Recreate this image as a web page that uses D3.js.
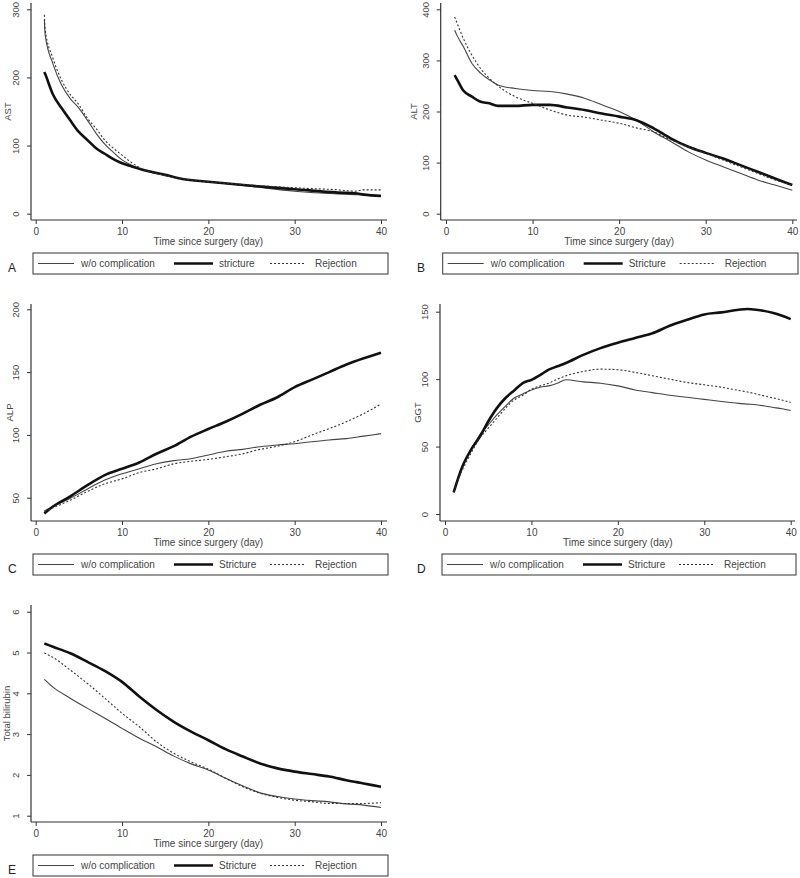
<!DOCTYPE html>
<html>
<head>
<meta charset="utf-8">
<script src="https://cdn.jsdelivr.net/npm/d3@7"></script>
<style>
  html, body { margin: 0; padding: 0; background: #fff; }
  svg text { font-family: "Liberation Sans", Arial, sans-serif; fill: #333; }
</style>
</head>
<body>
<svg id="chart" width="800" height="878"></svg>
<script>
// ---------------- DATA ----------------
const seriesNames = ["w/o complication", "Stricture", "Rejection"];
const seriesNamesA = ["w/o complication", "stricture", "Rejection"];
const xTicks = [0, 10, 20, 30, 40];
const xTitle = "Time since surgery (day)";

// A: AST
const astDays      = [1, 1.1, 2, 3, 4, 5, 6, 7, 8, 9, 10, 11, 12, 15, 17, 20, 25, 30, 35, 37, 38, 40];
const astNoComp    = [285, 262, 220, 189, 169, 155, 137, 118, 102, 90, 79, 72, 66, 56, 51, 47, 40, 33, 29, 28, 27.5, 27];
const astStricture = [208, 205, 175, 155, 137, 120, 108, 96, 88, 80, 74, 70, 66, 57, 51, 47, 41, 36, 31, 30, 28, 26];
const astRejection = [292, 270, 228, 196, 175, 160, 140, 125, 108, 96, 86, 76, 68, 56, 51, 47, 42, 38, 35, 33, 35, 35];
const astTicks = [0, 100, 200, 300];

// B: ALT
const altDays      = [1, 1.3, 2, 3, 4, 5, 6, 8, 10, 12, 14, 16, 18, 20, 22, 24, 26, 28, 30, 32, 34, 36, 38, 40];
const altNoComp    = [359, 348, 327, 294, 275, 262, 252, 245, 241, 239, 234, 226, 213, 200, 183, 160, 141, 121, 105, 92, 79, 66, 56, 46];
const altStricture = [271, 262, 241, 229, 219, 216, 211, 211, 213, 213, 208, 203, 196, 190, 183, 167, 147, 131, 119, 108, 95, 82, 69, 56];
const altRejection = [385, 372, 343, 310, 284, 265, 250, 229, 216, 203, 193, 189, 183, 177, 168, 160, 144, 131, 118, 105, 92, 79, 66, 56];
const altTicks = [0, 100, 200, 300, 400];

// C: ALP
const alpDays      = [1, 2, 4, 6, 8, 10, 12, 14, 16, 18, 20, 22, 24, 26, 28, 30, 32, 34, 36, 38, 40];
const alpNoComp    = [39.6, 43, 49.5, 57, 64, 69, 73, 77, 79.5, 81, 84, 87, 88.5, 90.6, 92, 93, 94.6, 96, 97, 99, 101];
const alpStricture = [37.5, 43, 51, 60, 68, 73, 78, 85, 91, 98.6, 104.7, 110.5, 117, 124, 130, 138, 144, 150, 156, 161, 165.5];
const alpRejection = [39, 42, 48, 55, 61, 65, 70, 73, 77, 79, 80.5, 82.6, 85, 88.5, 91, 94.6, 100, 105, 110.5, 117, 124.5];
const alpTicks = [50, 100, 150, 200];

// D: GGT
const ggtDays      = [1, 2, 3, 4, 5, 6, 7, 8, 9, 10, 11, 12, 13, 14, 16, 18, 20, 22, 24, 26, 28, 30, 32, 34, 35, 36, 38, 39, 40];
const ggtNoComp    = [16, 35, 47.5, 58.6, 66, 73.5, 80, 86, 89, 92, 94, 95, 97, 99.5, 98, 97, 95, 92, 90, 88, 86.6, 85, 83.4, 82, 81.5, 81, 79, 78, 76.7];
const ggtStricture = [16, 35, 47.5, 57, 68.6, 78.5, 86, 91.6, 97, 99.5, 103, 107, 109.5, 112, 118, 123, 127, 130.5, 134, 139.6, 144, 148, 149.5, 151.5, 152, 151.5, 149, 147, 144.5];
const ggtRejection = [16.5, 32.7, 45, 56, 63.6, 71, 78.5, 84.6, 88, 92.5, 95, 97, 100, 102.5, 105.7, 107.4, 107, 105, 102.5, 100, 97.5, 95.8, 94, 91.6, 90.5, 89, 86, 84.5, 82.7];
const ggtTicks = [0, 50, 100, 150];

// E: Total bilirubin
const bilDays      = [1, 2, 4, 6, 8, 10, 12, 14, 16, 18, 20, 22, 24, 26, 28, 30, 32, 34, 36, 38, 40];
const bilNoComp    = [4.34, 4.15, 3.88, 3.63, 3.39, 3.14, 2.90, 2.69, 2.46, 2.27, 2.12, 1.92, 1.73, 1.56, 1.47, 1.41, 1.37, 1.34, 1.29, 1.26, 1.20];
const bilStricture = [5.22, 5.14, 4.98, 4.77, 4.55, 4.28, 3.92, 3.59, 3.30, 3.06, 2.85, 2.63, 2.45, 2.28, 2.16, 2.08, 2.02, 1.96, 1.87, 1.79, 1.71];
const bilRejection = [4.99, 4.88, 4.57, 4.24, 3.88, 3.51, 3.18, 2.81, 2.53, 2.32, 2.14, 1.92, 1.71, 1.55, 1.45, 1.38, 1.34, 1.30, 1.30, 1.30, 1.32];
const bilTicks = [1, 2, 3, 4, 5, 6];

// ---------------- LAYOUT ----------------
const panels = [
  { letter: "A", ytitle: "AST", days: astDays, series: [astNoComp, astStricture, astRejection], names: seriesNamesA,
    yTicks: astTicks, yDom: [0, 300], yRange: [213.7, 9.3], xRange: [35.7, 381],
    axisX: 31, axisY: 220, top: 3, right: 387, ytitleX: 8, letterX: 8 },
  { letter: "B", ytitle: "ALT", days: altDays, series: [altNoComp, altStricture, altRejection], names: seriesNames,
    yTicks: altTicks, yDom: [0, 400], yRange: [213.7, 9.3], xRange: [446, 792.3],
    axisX: 440.7, axisY: 220, top: 3, right: 797, ytitleX: 414, letterX: 417 },
  { letter: "C", ytitle: "ALP", days: alpDays, series: [alpNoComp, alpStricture, alpRejection], names: seriesNames,
    yTicks: alpTicks, yDom: [50, 200], yRange: [497.7, 309.3], xRange: [35.7, 381],
    axisX: 31, axisY: 521, top: 304, right: 387, ytitleX: 10, letterX: 8 },
  { letter: "D", ytitle: "GGT", days: ggtDays, series: [ggtNoComp, ggtStricture, ggtRejection], names: seriesNames,
    yTicks: ggtTicks, yDom: [0, 150], yRange: [514, 311.7], xRange: [445, 790.7],
    axisX: 440, axisY: 521, top: 304, right: 795, ytitleX: 418, letterX: 417 },
  { letter: "E", ytitle: "Total bilirubin", days: bilDays, series: [bilNoComp, bilStricture, bilRejection], names: seriesNames,
    yTicks: bilTicks, yDom: [1, 6], yRange: [815.7, 611.7], xRange: [35.7, 381],
    axisX: 31, axisY: 822, top: 605, right: 387, ytitleX: 7, letterX: 8 }
];

const styles = [
  { width: 1.1, color: "#444", dash: null },
  { width: 2.6, color: "#111", dash: null },
  { width: 1.1, color: "#333", dash: "2,2" }
];

const svg = d3.select("#chart");

panels.forEach(p => {
  const g = svg.append("g");
  const x = d3.scaleLinear().domain([0, 40]).range(p.xRange);
  const y = d3.scaleLinear().domain(p.yDom).range(p.yRange);

  // Axis lines spanning plot region
  g.append("line").attr("x1", p.axisX).attr("x2", p.axisX).attr("y1", p.top).attr("y2", p.axisY)
    .attr("stroke", "#333").attr("stroke-width", 1.2);
  g.append("line").attr("x1", p.axisX).attr("x2", p.right).attr("y1", p.axisY).attr("y2", p.axisY)
    .attr("stroke", "#333").attr("stroke-width", 1.2);

  // Y axis
  const ya = g.append("g").attr("transform", `translate(${p.axisX},0)`)
    .call(d3.axisLeft(y).tickValues(p.yTicks).tickSize(4).tickSizeOuter(0).tickFormat(d3.format("d")));
  ya.select(".domain").remove();
  ya.selectAll(".tick line").attr("stroke", "#333");
  ya.selectAll(".tick text")
    .attr("x", 0).attr("y", 0).attr("dy", null)
    .attr("transform", "translate(-12,0) rotate(-90)")
    .attr("text-anchor", "middle")
    .style("font-size", "9.5px").style("fill", "#444");

  // X axis
  const xa = g.append("g").attr("transform", `translate(0,${p.axisY})`)
    .call(d3.axisBottom(x).tickValues(xTicks).tickSize(4).tickSizeOuter(0));
  xa.select(".domain").remove();
  xa.selectAll(".tick line").attr("stroke", "#333");
  xa.selectAll(".tick text").attr("y", 8).style("font-size", "10px").style("fill", "#444");

  // Titles
  g.append("text").attr("x", (p.xRange[0] + p.xRange[1]) / 2).attr("y", p.axisY + 25)
    .attr("text-anchor", "middle").style("font-size", "10px").style("fill", "#444").text(xTitle);
  g.append("text")
    .attr("transform", `translate(${p.ytitleX + 3},${(p.top + p.axisY) / 2}) rotate(-90)`)
    .attr("text-anchor", "middle").style("font-size", "9.5px").style("fill", "#444").text(p.ytitle);

  // Lines
  const line = d3.line().curve(d3.curveMonotoneX);
  p.series.forEach((vals, i) => {
    const pts = p.days.map((d, k) => [x(d), y(vals[k])]);
    g.append("path").attr("d", line(pts)).attr("fill", "none")
      .attr("stroke", styles[i].color).attr("stroke-width", styles[i].width)
      .attr("stroke-dasharray", styles[i].dash);
  });

  // Legend
  const lx = p.axisX + 2, ly = p.axisY + 33, lw = p.right - p.axisX - 1, lh = 21;
  g.append("rect").attr("x", lx).attr("y", ly).attr("width", lw).attr("height", lh)
    .attr("fill", "#fff").attr("stroke", "#333").attr("stroke-width", 1);
  const offs = [[5, 41, 48], [141, 180, 186], [237, 273, 282]];
  p.names.forEach((nm, i) => {
    g.append("line").attr("x1", lx + offs[i][0]).attr("x2", lx + offs[i][1])
      .attr("y1", ly + lh / 2).attr("y2", ly + lh / 2)
      .attr("stroke", styles[i].color).attr("stroke-width", styles[i].width)
      .attr("stroke-dasharray", styles[i].dash);
    g.append("text").attr("x", lx + offs[i][2]).attr("y", ly + lh / 2 + 3.5)
      .style("font-size", "10px").style("fill", "#444").text(nm);
  });

  // Panel letter
  g.append("text").attr("x", p.letterX).attr("y", ly + lh - 2)
    .style("font-size", "12px").style("fill", "#222").text(p.letter);
});
</script>
</body>
</html>
